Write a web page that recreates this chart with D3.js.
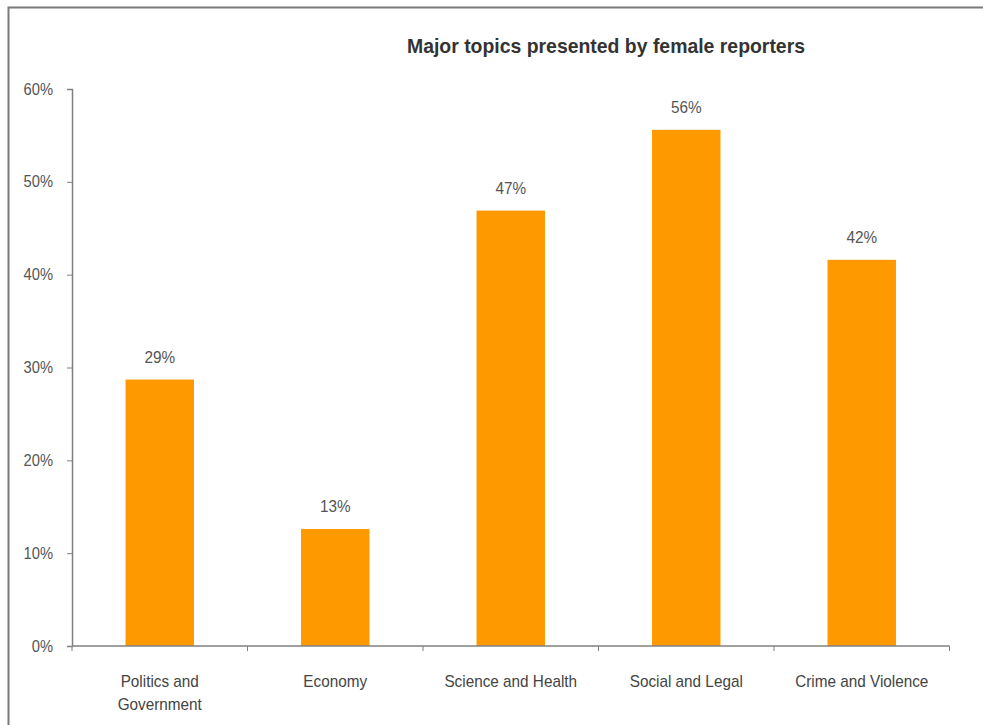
<!DOCTYPE html>
<html>
<head>
<meta charset="utf-8">
<script src="https://cdn.jsdelivr.net/npm/d3@7"></script>
<style>
  html, body { margin: 0; padding: 0; background: #fff; }
  svg { display: block; }
  text { font-family: "Liberation Sans", Arial, sans-serif; }
</style>
</head>
<body>
<svg id="chart" width="983" height="725"></svg>
<script>
// Share of stories on each topic presented by female reporters
const categories = [
  ["Politics and", "Government"],
  ["Economy"],
  ["Science and Health"],
  ["Social and Legal"],
  ["Crime and  Violence"]
];
const values = [0.287, 0.126, 0.469, 0.556, 0.416];
const yTicks = [0, 0.1, 0.2, 0.3, 0.4, 0.5, 0.6];
const title = "Major topics presented by female reporters";

const svg = d3.select("#chart");
const fmt = d3.format(".0%");

// Narrow each text horizontally to give a condensed face
function condense(sel, ratio) {
  sel.each(function () {
    const w = this.getComputedTextLength();
    d3.select(this).attr("textLength", w * ratio).attr("lengthAdjust", "spacingAndGlyphs");
  });
}

// Frame around the chart area
svg.append("rect")
  .attr("x", 8.5).attr("y", 7.5)
  .attr("width", 1200).attr("height", 1200)
  .attr("fill", "none")
  .attr("stroke", "#7a7a7a")
  .attr("stroke-width", 2);

const plot = { left: 72, right: 949.5, top: 89, bottom: 646 };

const x = d3.scaleBand()
  .domain(d3.range(categories.length))
  .range([plot.left, plot.right])
  .paddingInner(0.61)
  .paddingOuter(0.305);

const y = d3.scaleLinear()
  .domain([0, 0.6])
  .range([plot.bottom, plot.top]);

// Title
svg.append("text")
  .attr("x", 606).attr("y", 53)
  .attr("text-anchor", "middle")
  .attr("font-size", 21)
  .attr("font-weight", "bold")
  .attr("fill", "#333")
  .attr("textLength", 398)
  .attr("lengthAdjust", "spacingAndGlyphs")
  .text(title);

// Bars
svg.append("g").selectAll("rect")
  .data(values)
  .join("rect")
  .attr("x", (d, i) => x(i))
  .attr("y", d => y(d))
  .attr("width", x.bandwidth())
  .attr("height", d => y(0) - y(d))
  .attr("fill", "#ff9900");

// Value labels
svg.append("g").selectAll("text")
  .data(values)
  .join("text")
  .attr("x", (d, i) => x(i) + x.bandwidth() / 2)
  .attr("y", d => y(d) - 17)
  .attr("text-anchor", "middle")
  .attr("font-size", 17)
  .attr("fill", "#555")
  .text(d => fmt(d))
  .call(condense, 0.9);

// Y axis
const yAxis = svg.append("g")
  .attr("transform", `translate(${plot.left},0)`)
  .call(d3.axisLeft(y).tickValues(yTicks).tickFormat(fmt).tickSize(5).tickPadding(14));
yAxis.select(".domain").attr("stroke", "#808080").attr("stroke-width", 1.5);
yAxis.selectAll(".tick line").attr("stroke", "#808080");
yAxis.selectAll(".tick text")
  .attr("font-size", 16)
  .attr("fill", "#555")
  .attr("font-family", "\"Liberation Sans\", Arial, sans-serif")
  .call(condense, 0.92);

// X axis with ticks at band boundaries
const bounds = d3.range(categories.length + 1).map(i => plot.left + i * x.step());
svg.append("line")
  .attr("x1", plot.left).attr("x2", plot.right)
  .attr("y1", plot.bottom).attr("y2", plot.bottom)
  .attr("stroke", "#808080").attr("stroke-width", 1.5);
svg.append("g").selectAll("line")
  .data(bounds)
  .join("line")
  .attr("x1", d => d).attr("x2", d => d)
  .attr("y1", plot.bottom).attr("y2", plot.bottom + 5)
  .attr("stroke", "#808080");

// Category labels, one line per tspan
svg.append("g").selectAll("g")
  .data(categories)
  .join("g")
  .each(function (lines, i) {
    const cx = x(i) + x.bandwidth() / 2;
    d3.select(this).selectAll("text")
      .data(lines)
      .join("text")
      .attr("x", cx)
      .attr("y", (d, j) => 687 + j * 23)
      .attr("text-anchor", "middle")
      .attr("font-size", 17)
      .attr("fill", "#444")
      .text(d => d)
      .call(condense, 0.9);
  });
</script>
</body>
</html>
